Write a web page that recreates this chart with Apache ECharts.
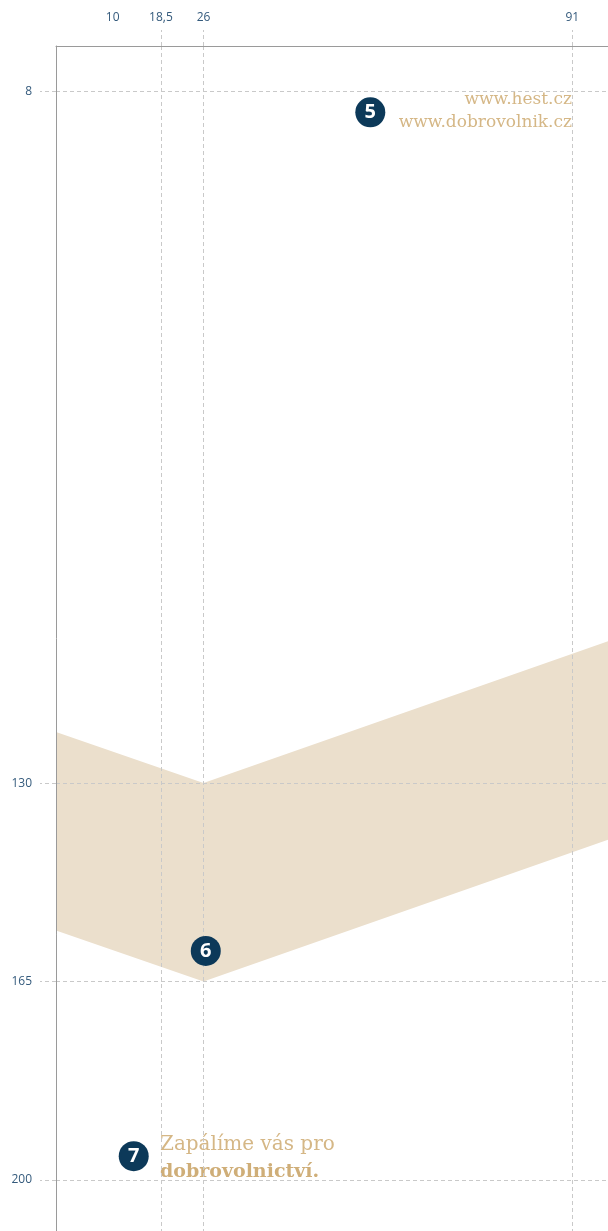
<!DOCTYPE html>
<html>
<head>
<meta charset="utf-8">
<script src="https://cdn.jsdelivr.net/npm/echarts@6/dist/echarts.min.js"></script>
<style>
  html, body { margin: 0; padding: 0; background: #fff; }
  #chart { width: 608px; height: 1231px; }
</style>
</head>
<body>
<div id="chart"></div>
<script>
// tick labels
const xLabels = [10, 18.5, 26, 91]
const xGrid = [18.5, 26, 91]
const yTicks = [8, 130, 165, 200]

// band (upper and lower edge, y axis runs downward)
const bandX = [0, 26, 97.3]
const bandUpper = [121, 130, 105]
const bandLower = [156, 165, 140]

// numbered markers
const markerX = [55.4, 26.4, 13.7]
const markerY = [11.7, 159.6, 195.8]
const markerText = ['5', '6', '7']

const gridColor = '#c9c9c9'
const labelColor = '#345a7c'
const sand = '#d5b786'

const chart = echarts.init(document.getElementById('chart'))

const fmt = v => String(v).replace('.', ',')

chart.setOption({
  animation: false,
  grid: { left: 56, top: 46, right: 0, bottom: 0 },
  xAxis: {
    type: 'value',
    position: 'top',
    z: 3,
    min: 0,
    max: 97.3,
    axisLine: { show: true, lineStyle: { color: '#9a9a9a', width: 1 } },
    axisTick: {
      show: true,
      customValues: xGrid,
      length: 16,
      lineStyle: { color: gridColor, type: [4, 3] }
    },
    axisLabel: {
      customValues: xLabels,
      formatter: fmt,
      margin: 22,
      color: labelColor,
      fontSize: 12,
      fontFamily: 'Open Sans'
    },
    splitLine: { show: true, lineStyle: { color: gridColor, type: [4, 3] } }
  },
  yAxis: {
    type: 'value',
    inverse: true,
    z: 3,
    min: 0,
    max: 209,
    axisLine: { show: true, lineStyle: { color: '#9a9a9a', width: 1 } },
    axisTick: {
      show: true,
      customValues: yTicks,
      length: 16,
      lineStyle: { color: gridColor, type: [4, 3] }
    },
    axisLabel: {
      customValues: yTicks,
      margin: 24,
      color: labelColor,
      fontSize: 12,
      fontFamily: 'Open Sans'
    },
    splitLine: { show: true, lineStyle: { color: gridColor, type: [4, 3] } }
  },
  series: [
    {
      type: 'custom',
      z: 1,
      data: [0],
      renderItem: (params, api) => {
        const pts = []
        bandX.forEach((x, i) => pts.push(api.coord([x, bandUpper[i]])))
        for (let i = bandX.length - 1; i >= 0; i--) pts.push(api.coord([bandX[i], bandLower[i]]))
        return {
          type: 'polygon',
          shape: { points: pts },
          style: { fill: '#ebdfcc' }
        }
      }
    },
    {
      type: 'scatter',
      z: 5,
      symbolSize: 30,
      itemStyle: { color: '#0c3959', opacity: 1 },
      data: markerX.map((x, i) => [x, markerY[i], markerText[i]]),
      label: {
        show: true,
        position: 'inside',
        formatter: p => p.data[2],
        color: '#fff',
        fontSize: 20,
        fontWeight: 'bold',
        fontFamily: 'Open Sans'
      }
    }
  ],
  graphic: [
    {
      type: 'text', right: 36, top: 91,
      style: { text: 'www.hest.cz', fill: sand, font: '17px "DejaVu Serif"', textAlign: 'right' }
    },
    {
      type: 'text', right: 36, top: 114,
      style: { text: 'www.dobrovolnik.cz', fill: sand, font: '17px "DejaVu Serif"', textAlign: 'right' }
    },
    {
      type: 'text', left: 160, top: 1135,
      style: { text: 'Zapálíme vás pro', fill: sand, font: '20px "DejaVu Serif"' }
    },
    {
      type: 'text', left: 160, top: 1163,
      style: { text: 'dobrovolnictví.', fill: '#cfae78', font: 'bold 19px "DejaVu Serif"' }
    }
  ]
})
</script>
</body>
</html>
